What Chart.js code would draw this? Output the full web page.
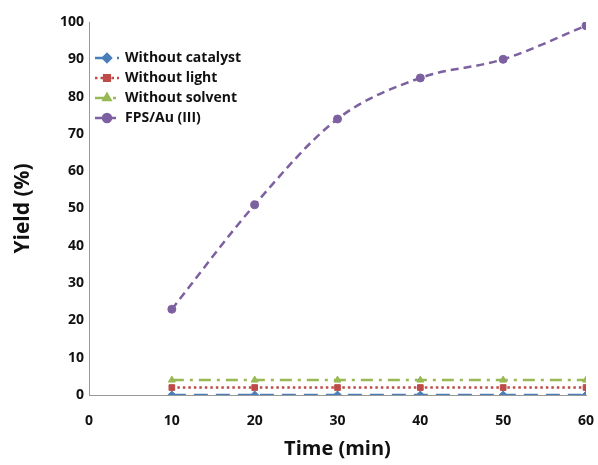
<!DOCTYPE html>
<html>
<head>
<meta charset="utf-8">
<script src="https://cdn.jsdelivr.net/npm/chart.js@4/dist/chart.umd.min.js"></script>
<style>
  body { margin: 0; background: #fff; }
  #wrap { width: 598px; height: 465px; }
</style>
</head>
<body>
<div id="wrap"><canvas id="myChart"></canvas></div>
<script>
var times = [10, 20, 30, 40, 50, 60];
var withoutCatalyst = [0, 0, 0, 0, 0, 0];
var withoutLight = [2, 2, 2, 2, 2, 2];
var withoutSolvent = [4, 4, 4, 4, 4, 4];
var fpsAu = [23, 51, 74, 85, 90, 99];
var xTicks = [0, 10, 20, 30, 40, 50, 60];
var yTicks = [0, 10, 20, 30, 40, 50, 60, 70, 80, 90, 100];

function pts(vals) {
    return times.map(function (t, i) { return { x: t, y: vals[i] }; });
}

// legend drawn inside the plot area, like the original
var insideLegend = {
    id: 'insideLegend',
    afterDraw: function (chart) {
        var ctx = chart.ctx;
        var x0 = chart.chartArea.left + 6, y0 = 58, step = 20;
        ctx.save();
        chart.data.datasets.forEach(function (ds, i) {
            var y = y0 + i * step;
            ctx.strokeStyle = ds.borderColor;
            ctx.lineWidth = 2.5;
            ctx.setLineDash(ds.borderDash || []);
            ctx.beginPath();
            ctx.moveTo(x0, y);
            ctx.lineTo(x0 + 24, y);
            ctx.stroke();
            ctx.setLineDash([]);
            Chart.helpers.drawPoint(ctx, {
                pointStyle: ds.pointStyle, radius: 4, rotation: 0, borderWidth: 1
            }, x0 + 12, y);
            ctx.fillStyle = ds.backgroundColor;
            ctx.fill();
            ctx.fillStyle = '#111';
            ctx.font = 'bold 14px "Open Sans"';
            ctx.textBaseline = 'middle';
            ctx.fillText(ds.label, x0 + 30, y);
        });
        ctx.restore();
    }
};

var ctx = document.getElementById('myChart').getContext('2d');
var chart = new Chart(ctx, {
    type: 'line',
    data: {
        datasets: [{
            label: 'Without catalyst',
            data: pts(withoutCatalyst),
            borderColor: '#4a7ebb',
            backgroundColor: '#4a7ebb',
            borderDash: [14, 8],
            pointStyle: 'rectRot'
        }, {
            label: 'Without light',
            data: pts(withoutLight),
            borderColor: '#be4b48',
            backgroundColor: '#be4b48',
            borderDash: [2.5, 3],
            pointStyle: 'rect'
        }, {
            label: 'Without solvent',
            data: pts(withoutSolvent),
            borderColor: '#98b954',
            backgroundColor: '#98b954',
            borderDash: [12, 6, 3, 6],
            pointStyle: 'triangle'
        }, {
            label: 'FPS/Au (III)',
            data: pts(fpsAu),
            borderColor: '#7d60a0',
            backgroundColor: '#7d60a0',
            borderDash: [8, 5],
            pointStyle: 'circle'
        }]
    },
    options: {
        responsive: true,
        maintainAspectRatio: false,
        animation: false,
        layout: { padding: { top: 22, right: 12 } },
        elements: {
            line: { borderWidth: 2.5, tension: 0.4, cubicInterpolationMode: 'monotone' },
            point: { radius: 4, borderWidth: 1 }
        },
        plugins: { legend: { display: false }, tooltip: { enabled: false } },
        scales: {
            x: {
                type: 'linear',
                min: 0, max: 60,
                afterBuildTicks: function (s) { s.ticks = xTicks.map(function (v) { return { value: v }; }); },
                grid: { display: false, drawTicks: false },
                border: { color: '#999', width: 1 },
                ticks: { padding: 18, color: '#111', font: { family: 'Open Sans', weight: 'bold', size: 14 } },
                title: { display: true, text: 'Time (min)', color: '#111', padding: { top: 4 },
                    font: { family: 'Open Sans', weight: 'bold', size: 20 } },
                afterFit: function (s) { s.height = 70; s.paddingRight = 0; s.paddingLeft = 0; }
            },
            y: {
                min: 0, max: 100,
                afterBuildTicks: function (s) { s.ticks = yTicks.map(function (v) { return { value: v }; }); },
                grid: { display: false, drawTicks: false },
                border: { color: '#999', width: 1 },
                ticks: { padding: 5, color: '#111', font: { family: 'Open Sans', weight: 'bold', size: 14 } },
                title: { display: true, text: 'Yield (%)', color: '#111', padding: { top: 10, bottom: 4 },
                    font: { family: 'Open Sans', weight: 'bold', size: 21 } },
                afterFit: function (s) { s.width = 89; s.paddingTop = 0; s.paddingBottom = 0; }
            }
        }
    },
    plugins: [insideLegend]
});
</script>
</body>
</html>
